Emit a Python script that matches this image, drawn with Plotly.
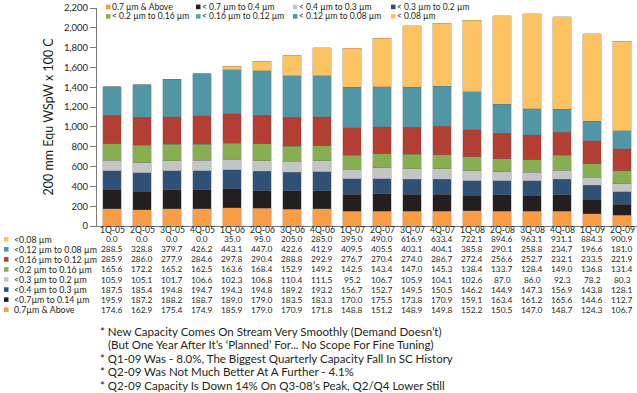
import plotly.graph_objects as go

# ---------------- data ----------------
quarters = ["1Q-05", "2Q-05", "3Q-05", "4Q-05", "1Q-06", "2Q-06", "3Q-06", "4Q-06",
            "1Q-07", "2Q-07", "3Q-07", "4Q-07", "1Q-08", "2Q-08", "3Q-08", "4Q-08",
            "1Q-09", "2Q-09"]

s_07_above = [174.6, 162.9, 175.4, 174.9, 185.9, 179.0, 170.9, 171.8, 148.8, 151.2,
              148.9, 149.8, 152.2, 150.5, 147.0, 148.7, 124.3, 106.7]
s_07_04 = [195.9, 187.2, 188.2, 188.7, 189.0, 179.0, 183.5, 183.3, 170.0, 175.5,
           173.8, 170.9, 159.1, 163.4, 161.2, 165.6, 144.6, 112.7]
s_04_03 = [187.5, 185.4, 194.8, 194.7, 194.3, 194.8, 189.2, 193.2, 156.7, 152.7,
           149.5, 150.5, 146.2, 144.9, 147.3, 156.9, 143.8, 128.1]
s_03_02 = [105.9, 105.1, 101.7, 106.6, 102.3, 106.8, 110.4, 111.5, 95.2, 106.7,
           105.9, 104.1, 102.6, 87.0, 86.0, 92.3, 78.2, 80.3]
s_02_016 = [165.6, 172.2, 165.2, 162.5, 163.6, 168.4, 152.9, 149.2, 142.5, 143.4,
            147.0, 145.3, 138.4, 133.7, 128.4, 149.0, 136.8, 131.4]
s_016_012 = [285.9, 286.0, 277.9, 284.6, 297.8, 290.4, 288.8, 292.9, 276.7, 270.4,
             274.0, 286.7, 272.4, 256.6, 252.7, 232.1, 233.5, 221.9]
s_012_008 = [288.5, 328.8, 379.7, 426.2, 443.1, 447.0, 422.6, 412.9, 409.5, 405.5,
             403.1, 404.1, 385.8, 290.1, 258.8, 234.7, 196.6, 181.0]
s_008 = [0.0, 0.0, 0.0, 0.0, 35.0, 95.0, 205.0, 285.0, 395.0, 490.0,
         616.9, 633.4, 722.1, 894.6, 963.1, 931.1, 884.3, 900.9]

y_title = "200 mm Equ WSpW x 100 C"

# table row labels (top to bottom)
table_labels = ["<0.08 µm", "<0.12 µm to 0.08 µm", "<0.16 µm to 0.12 µm",
                "<0.2 µm to 0.16 µm", "<0.3 µm to 0.2 µm", "<0.4 µm to 0.3 µm",
                "<0.7µm to 0.14 µm", "0.7µm & Above"]

# legend labels as printed at the top of the chart (two rows of four)
legend_labels = ["0.7 µm & Above", "< 0.7 µm to 0.4 µm", "< 0.4 µm to 0.3 µm", "< 0.3 µm to 0.2 µm",
                 "< 0.2 µm to 0.16 µm", "< 0.16 µm to 0.12 µm", "< 0.12 µm to 0.08 µm", "< 0.08 µm"]

notes = [
    "* New Capacity Comes On Stream Very Smoothly (Demand Doesn’t)",
    "(But One Year After It’s ‘Planned’ For... No Scope For Fine Tuning)",
    "* Q1-09 Was - 8.0%, The Biggest Quarterly Capacity Fall In SC History",
    "* Q2-09 Was Not Much Better At A Further - 4.1%",
    "* Q2-09 Capacity Is Down 14% On Q3-08’s Peak, Q2/Q4 Lower Still",
]

# ---------------- styles ----------------
C_ORANGE = "#F89C45"
C_BLACK = "#231F20"
C_BLUE = "#2F5175"
C_GRAY = "#C4C5C7"
C_GREEN = "#87AE50"
C_RED = "#B23E34"
C_TEAL = "#5096A4"
C_YELLOW = "#FDC262"

# stacking order bottom -> top
stack = [
    ("0.7µm & Above", s_07_above, C_ORANGE),
    ("<0.7µm to 0.4 µm", s_07_04, C_BLACK),
    ("<0.4 µm to 0.3 µm", s_04_03, C_BLUE),
    ("<0.3 µm to 0.2 µm", s_03_02, C_GRAY),
    ("<0.2 µm to 0.16 µm", s_02_016, C_GREEN),
    ("<0.16 µm to 0.12 µm", s_016_012, C_RED),
    ("<0.12 µm to 0.08 µm", s_012_008, C_TEAL),
    ("<0.08 µm", s_008, C_YELLOW),
]

W, H = 637, 393
ML, MR, MT, MB = 97, 0, 8, 167
PW, PH = W - ML - MR, H - MT - MB
FONT = "Lato"
TXT = "#231F20"
SMALL = 8.4


def px(xp):
    return (xp - ML) / PW


def py(yp):
    return (H - MB - yp) / PH


fig = go.Figure()
for name, vals, col in stack:
    fig.add_trace(go.Bar(
        x=quarters, y=vals, name=name, showlegend=False,
        marker=dict(color=col, line=dict(width=0.6, color="rgba(110,110,110,0.55)")),
    ))

annotations = []
shapes = []

# y-axis title
annotations.append(dict(text=y_title, xref="paper", yref="paper", x=px(48), y=py(116.5),
                        showarrow=False, textangle=-90, xanchor="center", yanchor="middle",
                        font=dict(family=FONT, size=12.5, color=TXT)))

# top legend (as printed)
leg_swatch = [C_ORANGE, C_BLACK, C_GRAY, C_BLUE, C_GREEN, "#5FA3AE", C_TEAL, C_YELLOW]
leg_cols = [106, 196, 293, 391]
leg_rows = [6.9, 16.4]
for i, (lab, sw) in enumerate(zip(legend_labels, leg_swatch)):
    cx = leg_cols[i % 4]
    cy = leg_rows[i // 4]
    shapes.append(dict(type="rect", xref="paper", yref="paper",
                       x0=px(cx), x1=px(cx + 4.5), y0=py(cy - 2.3), y1=py(cy + 2.3),
                       fillcolor=sw, line=dict(width=0)))
    annotations.append(dict(text=lab, xref="paper", yref="paper", x=px(cx + 5), y=py(cy),
                            showarrow=False, xanchor="left", yanchor="middle", borderpad=0,
                            font=dict(family=FONT, size=SMALL + 0.1, color=TXT)))

# category labels under the axis (table header row)
for q in quarters:
    annotations.append(dict(text=q, xref="x", yref="paper", x=q, y=py(229.5),
                            showarrow=False, xanchor="center", yanchor="middle",
                            font=dict(family=FONT, size=SMALL + 0.2, color=TXT)))

# data table below the chart
table_series = [s_008, s_012_008, s_016_012, s_02_016, s_03_02, s_04_03, s_07_04, s_07_above]
table_swatch = [C_YELLOW, C_TEAL, C_RED, C_GREEN, C_GRAY, C_BLUE, C_BLACK, C_ORANGE]
for r, (lab, vals, sw) in enumerate(zip(table_labels, table_series, table_swatch)):
    cy = 239.3 + r * 10.05
    shapes.append(dict(type="rect", xref="paper", yref="paper",
                       x0=px(4), x1=px(8.5), y0=py(cy - 2.3), y1=py(cy + 2.3),
                       fillcolor=sw, line=dict(width=0)))
    annotations.append(dict(text=lab, xref="paper", yref="paper", x=px(11.5), y=py(cy),
                            showarrow=False, xanchor="left", yanchor="middle",
                            font=dict(family=FONT, size=SMALL + 0.4, color=TXT)))
    for q, v in zip(quarters, vals):
        annotations.append(dict(text=f"{v:.1f}", xref="x", yref="paper", x=q, y=py(cy),
                                showarrow=False, xanchor="center", yanchor="middle",
                                font=dict(family=FONT, size=SMALL, color=TXT)))

# notes
note_x = [98, 106, 98, 98, 98]
for i, (t, nx) in enumerate(zip(notes, note_x)):
    annotations.append(dict(text=t, xref="paper", yref="paper", x=px(nx), y=py(331.5 + i * 13.4),
                            showarrow=False, xanchor="left", yanchor="middle",
                            font=dict(family=FONT, size=11.5, color=TXT)))

fig.update_layout(
    barmode="stack", bargap=0.37,
    width=W, height=H,
    margin=dict(l=ML, r=MR, t=MT, b=MB, autoexpand=False),
    plot_bgcolor="white", paper_bgcolor="white",
    font=dict(family=FONT, size=SMALL, color=TXT),
    annotations=annotations, shapes=shapes,
)
fig.update_yaxes(range=[0, 2200], dtick=200, tickformat=",", ticks="outside", ticklen=6,
                 tickcolor="#7a7a7a", showline=True, linecolor="#7a7a7a", linewidth=1,
                 showgrid=False, zeroline=False, tickfont=dict(family=FONT, size=9.5, color=TXT))
fig.update_xaxes(showline=True, linecolor="#7a7a7a", linewidth=1, ticks="", showgrid=False,
                 showticklabels=False)

fig.write_html("out.html", config={"displayModeBar": False},
               post_script="document.body.style.margin='0';document.body.style.padding='0';")
